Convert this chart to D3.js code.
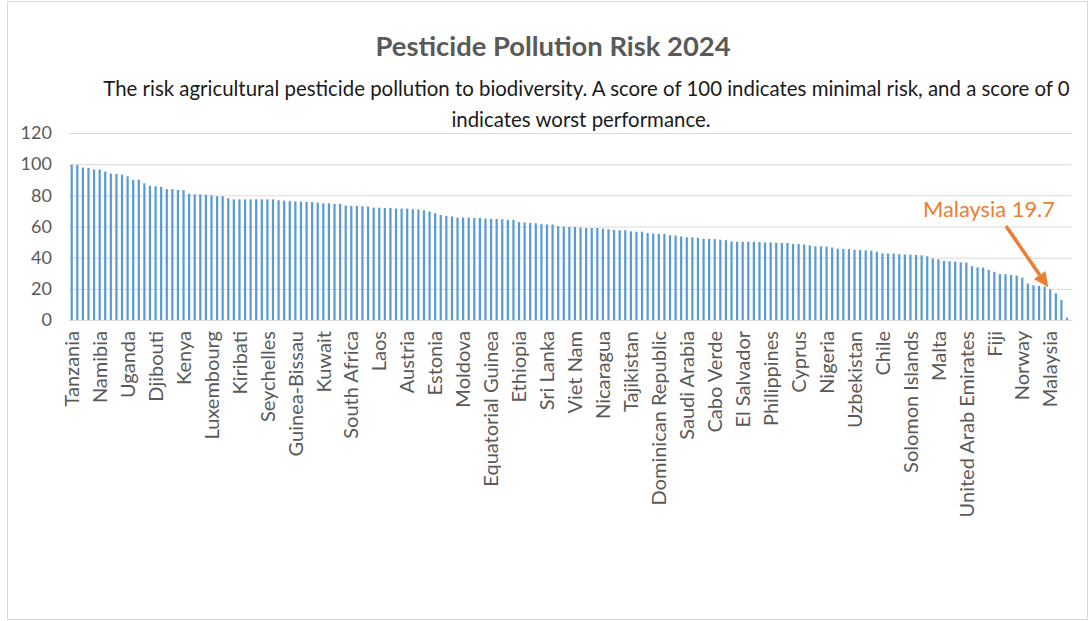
<!DOCTYPE html>
<html>
<head>
<meta charset="utf-8">
<script src="https://cdn.jsdelivr.net/npm/d3@7"></script>
<style>
  body { margin: 0; background: #fff; }
  svg { display: block; }
</style>
</head>
<body>
<svg id="chart" width="1092" height="621"></svg>
<script>
// Pesticide pollution risk scores, countries ranked from best to worst
const scores = [
  99.6, 99.4, 97.8, 97.6, 96.6, 96.5, 95.2, 93.9, 93.7, 93.3,
  92.2, 90.0, 90.0, 87.7, 86.2, 85.8, 85.5, 84.0, 84.0, 83.5,
  83.3, 81.0, 80.6, 80.6, 80.4, 80.0, 79.4, 79.4, 78.1, 77.4,
  77.4, 77.4, 77.4, 77.4, 77.4, 77.4, 77.4, 76.8, 76.6, 76.3,
  76.1, 75.9, 75.9, 75.6, 75.3, 74.9, 74.9, 74.5, 74.5, 73.4,
  73.2, 73.2, 73.0, 72.8, 72.1, 72.1, 71.9, 71.9, 71.5, 71.5,
  71.5, 71.1, 70.9, 70.4, 69.6, 68.5, 67.4, 66.8, 66.4, 65.7,
  65.7, 65.7, 65.5, 65.5, 65.1, 64.9, 64.9, 64.7, 64.3, 64.3,
  62.8, 62.6, 62.3, 62.1, 61.5, 61.3, 61.3, 60.2, 59.9, 59.7,
  59.7, 59.3, 59.0, 59.0, 59.0, 58.6, 58.2, 57.8, 57.6, 57.6,
  56.9, 56.7, 56.7, 55.9, 55.5, 55.2, 55.2, 54.4, 54.2, 53.6,
  53.1, 53.1, 52.7, 52.1, 52.1, 51.9, 51.5, 51.2, 50.4, 50.2,
  50.2, 50.2, 50.2, 50.0, 49.8, 49.8, 49.6, 49.4, 49.4, 48.7,
  48.7, 48.4, 47.9, 47.3, 47.3, 47.1, 46.5, 45.8, 45.5, 45.5,
  45.1, 44.9, 44.7, 44.5, 43.8, 42.8, 42.6, 42.6, 42.3, 42.1,
  41.9, 41.7, 41.5, 40.9, 39.4, 38.9, 37.9, 37.7, 37.4, 37.0,
  36.8, 34.5, 33.8, 33.6, 32.1, 30.9, 29.4, 29.4, 28.9, 28.5,
  27.2, 23.4, 22.3, 21.9, 21.5, 19.7, 17.2, 12.8, 1.5
];

// Category labels shown on the axis: every fifth country of the ranking
const labelStep = 5;
const axisLabels = [
  "Tanzania", "Namibia", "Uganda", "Djibouti", "Kenya", "Luxembourg",
  "Kiribati", "Seychelles", "Guinea-Bissau", "Kuwait", "South Africa", "Laos",
  "Austria", "Estonia", "Moldova", "Equatorial Guinea", "Ethiopia", "Sri Lanka",
  "Viet Nam", "Nicaragua", "Tajikistan", "Dominican Republic", "Saudi Arabia", "Cabo Verde",
  "El Salvador", "Philippines", "Cyprus", "Nigeria", "Uzbekistan", "Chile",
  "Solomon Islands", "Malta", "United Arab Emirates", "Fiji", "Norway", "Malaysia"
];

const yTicks = [0, 20, 40, 60, 80, 100, 120];

const titleText = "Pesticide Pollution Risk 2024";
const subtitleLines = [
  "The risk agricultural pesticide pollution to biodiversity. A score of 100 indicates minimal risk, and a score of 0",
  "indicates worst performance."
];

// Highlighted country
const calloutName = "Malaysia";
const calloutIndex = 175;
const calloutValue = 19.7;

// ---------------------------------------------------------------
const svg = d3.select("#chart");
const W = 1092, H = 621;
const FONT = "Lato, 'Open Sans', sans-serif";
const GREY = "#595959";

const plot = { left: 68.9, right: 1069.8, top: 133, bottom: 320 };

const x = d3.scaleBand()
  .domain(d3.range(scores.length))
  .range([plot.left, plot.right])
  .paddingInner(0.6)
  .paddingOuter(0.3);

const y = d3.scaleLinear()
  .domain([0, 120])
  .range([plot.bottom, plot.top]);

// Scale a text element's font size so it spans the given width
function fitWidth(sel, width) {
  const node = sel.node();
  const fs = parseFloat(sel.attr("font-size"));
  const len = node.getComputedTextLength();
  sel.attr("font-size", (fs * width / len).toFixed(2));
}

// Chart frame
svg.append("rect")
  .attr("x", 7.5).attr("y", 1.5)
  .attr("width", W - 12).attr("height", H - 3)
  .attr("fill", "#fff")
  .attr("stroke", "#d9d9d9")
  .attr("stroke-width", 1);

// Title
const title = svg.append("text")
  .attr("x", 553).attr("y", 56)
  .attr("text-anchor", "middle")
  .attr("font-family", FONT)
  .attr("font-weight", 700)
  .attr("font-size", 26)
  .attr("fill", GREY)
  .text(titleText);
fitWidth(title, 355);

// Subtitle
const sub1 = svg.append("text")
  .attr("x", 586.5).attr("y", 96)
  .attr("text-anchor", "middle")
  .attr("font-family", FONT)
  .attr("font-size", 20)
  .attr("fill", "#1a1a1a")
  .text(subtitleLines[0]);
fitWidth(sub1, 967);
svg.append("text")
  .attr("x", 581).attr("y", 127)
  .attr("text-anchor", "middle")
  .attr("font-family", FONT)
  .attr("font-size", sub1.attr("font-size"))
  .attr("fill", "#1a1a1a")
  .text(subtitleLines[1]);

// Horizontal gridlines
const grid = svg.append("g")
  .attr("transform", `translate(${plot.left},0)`)
  .call(d3.axisLeft(y)
    .tickValues(yTicks)
    .tickSize(-(plot.right - plot.left + 2))
    .tickFormat(""));
grid.select(".domain").remove();
grid.selectAll(".tick line")
  .attr("stroke", "#d9d9d9")
  .attr("stroke-width", 1);

// Y axis labels
const yAxis = svg.append("g")
  .attr("transform", `translate(${plot.left},0)`)
  .call(d3.axisLeft(y).tickValues(yTicks).tickSize(0).tickPadding(17));
yAxis.select(".domain").remove();
yAxis.selectAll("text")
  .attr("font-family", FONT)
  .attr("font-size", 18)
  .attr("fill", GREY);

// Bars
svg.append("g")
  .selectAll("rect")
  .data(scores)
  .join("rect")
  .attr("x", (d, i) => x(i))
  .attr("y", d => y(d))
  .attr("width", x.bandwidth())
  .attr("height", d => y(0) - y(d))
  .attr("fill", "#5b9bd5");

// X axis with rotated labels for every fifth country
const xAxis = svg.append("g")
  .attr("transform", `translate(0,${plot.bottom})`)
  .call(d3.axisBottom(x)
    .tickValues(d3.range(0, scores.length, labelStep))
    .tickFormat(i => axisLabels[i / labelStep])
    .tickSize(0));
xAxis.select(".domain")
  .attr("stroke", "#d9d9d9")
  .attr("d", `M${plot.left},0.5H${plot.right + 2}`);
xAxis.selectAll("text")
  .attr("font-family", FONT)
  .attr("font-size", 20)
  .attr("fill", GREY)
  .attr("transform", "rotate(-90)")
  .attr("x", -11)
  .attr("y", 0)
  .attr("dy", "0.36em")
  .style("text-anchor", "end");

// Callout for the highlighted country
const ORANGE = "#ed7d31";
const callout = svg.append("text")
  .attr("x", 923).attr("y", 217)
  .attr("font-family", FONT)
  .attr("font-size", 22)
  .attr("fill", ORANGE)
  .text(`${calloutName} ${calloutValue}`);
fitWidth(callout, 132);

const tip = [x(calloutIndex) + x.bandwidth() / 2 - 2, y(calloutValue) - 2];
const tail = [1006, 226];
const ang = Math.atan2(tip[1] - tail[1], tip[0] - tail[0]);
const headLen = 15, headHalf = 7;
const base = [tip[0] - headLen * Math.cos(ang), tip[1] - headLen * Math.sin(ang)];
svg.append("line")
  .attr("x1", tail[0]).attr("y1", tail[1])
  .attr("x2", base[0]).attr("y2", base[1])
  .attr("stroke", ORANGE)
  .attr("stroke-width", 3.5);
svg.append("path")
  .attr("d", d3.line()([
    tip,
    [base[0] + headHalf * Math.sin(ang), base[1] - headHalf * Math.cos(ang)],
    [base[0] - headHalf * Math.sin(ang), base[1] + headHalf * Math.cos(ang)]
  ]) + "Z")
  .attr("fill", ORANGE);
</script>
</body>
</html>
